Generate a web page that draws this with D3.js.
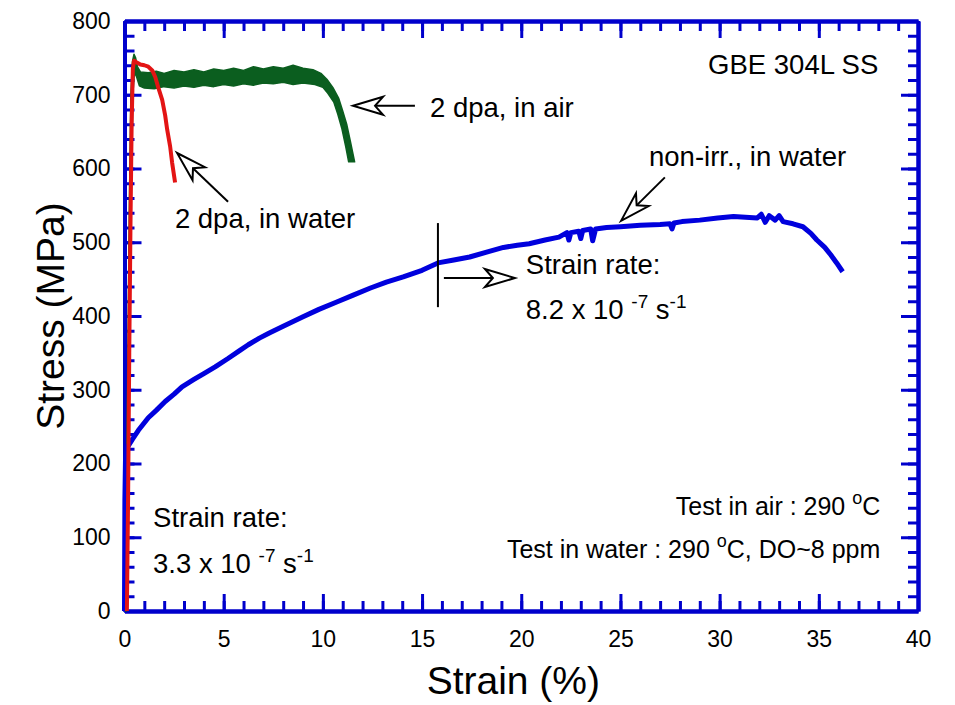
<!DOCTYPE html>
<html>
<head>
<meta charset="utf-8">
<script src="https://cdn.jsdelivr.net/npm/d3@7"></script>
<style>
    body { margin: 0; background: #fff; }
    text { font-family: "Liberation Sans", Arial, sans-serif; fill: #000; }
</style>
</head>
<body>
<script>
// Data: [strain (%), stress (MPa)]
const nonIrrWater = [
    [0, 0], [0.02, 150], [0.05, 205], [0.15, 222], [0.38, 232], [0.7, 245], [1.2, 262], [1.6, 272],
    [2.05, 284], [2.5, 294], [2.9, 304], [3.5, 314], [4, 322], [4.57, 331], [5.2, 342], [5.8, 353],
    [6.24, 361], [6.8, 370], [7.3, 377], [8, 386], [9, 399], [9.8, 409], [10.7, 419], [11.5, 428],
    [12.4, 438], [13.2, 446], [14.05, 453], [15, 462], [15.8, 472], [16.6, 476], [17.4, 480], [18.3, 487],
    [19.1, 493], [19.8, 496], [20.4, 498], [21.2, 503], [21.9, 507], [22.3, 513], [22.4, 503], [22.5, 513],
    [22.9, 515], [23.0, 505], [23.1, 516], [23.5, 518], [23.6, 502], [23.75, 518], [24.3, 520], [25, 521],
    [26, 523], [27, 524], [27.5, 525], [27.6, 518], [27.7, 526], [28.1, 528], [29, 530], [29.9, 533],
    [30.7, 535], [31.3, 534], [31.9, 533], [32.1, 538], [32.3, 527], [32.5, 536], [32.8, 530], [33.0, 536],
    [33.2, 528], [33.7, 525], [34.2, 521], [34.6, 512], [34.9, 503], [35.3, 493], [35.6, 483], [35.9, 472],
    [36.2, 460]
];

const dpa2Water = [
    [0.12, 0], [0.18, 150], [0.24, 350], [0.3, 520], [0.36, 660], [0.42, 735], [0.48, 746], [0.6, 744],
    [0.8, 741], [1.0, 740], [1.2, 738], [1.4, 733], [1.55, 724], [1.7, 710], [1.9, 693], [2.05, 672],
    [2.15, 653], [2.3, 630], [2.4, 608], [2.55, 581]
];

// 2 dpa in air is a noisy band: upper edge forward, lower edge backward
const dpa2AirUpper = [
    [0.05, 0], [0.15, 300], [0.25, 560], [0.32, 700], [0.4, 745], [0.48, 755], [0.56, 750], [0.65, 738],
    [0.8, 731], [1.2, 730], [1.6, 732], [2, 729], [2.5, 733], [3, 731], [3.5, 734], [4, 731], [4.5, 735],
    [5, 733], [5.5, 736], [6, 733], [6.5, 738], [7, 735], [7.5, 738], [8, 736], [8.5, 740], [9, 736],
    [9.5, 734], [9.9, 729], [10.2, 721], [10.5, 710], [10.8, 695], [11.0, 678], [11.2, 660], [11.4, 635],
    [11.6, 609]
];
const dpa2AirLower = [
    [11.3, 609], [11.15, 630], [10.95, 655], [10.75, 674], [10.55, 690], [10.25, 702], [10, 710], [9.6, 714],
    [9, 716], [8.5, 714], [8, 717], [7.5, 715], [7, 716], [6.5, 713], [6, 715], [5.5, 712], [5, 714],
    [4.5, 711], [4, 713], [3.5, 710], [3, 712], [2.5, 709], [2, 711], [1.5, 708], [1, 709], [0.75, 712],
    [0.6, 725], [0.5, 730], [0.42, 700], [0.3, 500], [0.2, 250], [0.1, 0]
];

// Ticks
const xTicks = [0, 5, 10, 15, 20, 25, 30, 35, 40];
const yTicks = [0, 100, 200, 300, 400, 500, 600, 700, 800];
const xMinor = d3.range(0, 41, 1);
const yMinor = d3.range(0, 801, 20);

// Annotations (data units)
const arrows = [
    { tail: [14.64, 685], tip: [11.52, 685] },
    { tail: [5.22, 555], tip: [2.65, 621] },
    { tail: [27.24, 588], tip: [25.03, 529] },
    { tail: [16.1, 451.5], tip: [19.68, 451.5] }
];
const rateMarker = { strain: 15.8, from: 412, to: 526 };

// Constants
const width = 955;
const height = 705;
const axisColor = '#0000CC';

const svg = d3.select('body')
    .append('svg')
    .attr('width', width)
    .attr('height', height);

const x = d3.scaleLinear().domain([0, 40]).range([124.5, 918]);
const y = d3.scaleLinear().domain([0, 800]).range([611, 21]);

// Axis helper
function drawAxis(axis, tx, ty, labels) {
    const g = svg.append('g')
        .attr('transform', `translate(${tx},${ty})`)
        .call(axis);
    g.select('.domain').attr('stroke', axisColor).attr('stroke-width', 4);
    g.selectAll('.tick line').attr('stroke', axisColor).attr('stroke-width', 3);
    g.selectAll('.tick text')
        .attr('font-size', 23)
        .attr('font-family', '"Liberation Sans", Arial, sans-serif')
        .attr('fill', '#000');
    if (!labels) g.selectAll('.tick text').remove();
    return g;
}

// Minor ticks
drawAxis(d3.axisBottom(x).tickValues(xMinor).tickSize(-10).tickSizeOuter(0).tickFormat(''), 0, y(0), false);
drawAxis(d3.axisTop(x).tickValues(xMinor).tickSize(-10).tickSizeOuter(0).tickFormat(''), 0, y(800), false);
drawAxis(d3.axisLeft(y).tickValues(yMinor).tickSize(-10).tickSizeOuter(0).tickFormat(''), x(0), 0, false);
drawAxis(d3.axisRight(y).tickValues(yMinor).tickSize(-10).tickSizeOuter(0).tickFormat(''), x(40), 0, false);

// Major ticks
drawAxis(d3.axisBottom(x).tickValues(xTicks).tickSize(-17).tickSizeOuter(0).tickPadding(20), 0, y(0), true);
drawAxis(d3.axisTop(x).tickValues(xTicks).tickSize(-17).tickSizeOuter(0), 0, y(800), false);
drawAxis(d3.axisLeft(y).tickValues(yTicks).tickSize(-17).tickSizeOuter(0).tickPadding(14), x(0), 0, true);
drawAxis(d3.axisRight(y).tickValues(yTicks).tickSize(-17).tickSizeOuter(0), x(40), 0, false);

// Axis titles
svg.append('text')
    .attr('x', x(19.6))
    .attr('y', 694)
    .attr('text-anchor', 'middle')
    .attr('font-size', 39)
    .text('Strain (%)');

svg.append('text')
    .attr('transform', `translate(64,${(y(0) + y(800)) / 2}) rotate(-90)`)
    .attr('text-anchor', 'middle')
    .attr('font-size', 39)
    .text('Stress (MPa)');

// Curves
const line = d3.line().x(d => x(d[0])).y(d => y(d[1]));

svg.append('path')
    .datum(dpa2AirUpper.concat(dpa2AirLower))
    .attr('d', d => line(d) + 'Z')
    .attr('fill', '#0B5E1F')
    .attr('stroke', '#0B5E1F')
    .attr('stroke-width', 1.5)
    .attr('stroke-linejoin', 'round');

svg.append('path')
    .datum(nonIrrWater)
    .attr('d', line)
    .attr('fill', 'none')
    .attr('stroke', '#0000DD')
    .attr('stroke-width', 5)
    .attr('stroke-linejoin', 'round');

svg.append('path')
    .datum(dpa2Water)
    .attr('d', line)
    .attr('fill', 'none')
    .attr('stroke', '#E31414')
    .attr('stroke-width', 4)
    .attr('stroke-linejoin', 'round');

// Open arrows
arrows.forEach(a => {
    const x1 = x(a.tail[0]), y1 = y(a.tail[1]);
    const x2 = x(a.tip[0]), y2 = y(a.tip[1]);
    const ang = Math.atan2(y2 - y1, x2 - x1);
    const len = 30, half = 9, notch = 22;
    const pt = (back, side) => [
        x2 - back * Math.cos(ang) - side * Math.sin(ang),
        y2 - back * Math.sin(ang) + side * Math.cos(ang)
    ];
    const n = pt(notch, 0);
    svg.append('line')
        .attr('x1', x1).attr('y1', y1)
        .attr('x2', n[0]).attr('y2', n[1])
        .attr('stroke', '#000').attr('stroke-width', 2);
    svg.append('path')
        .attr('d', d3.line()([[x2, y2], pt(len, half), n, pt(len, -half)]) + 'Z')
        .attr('fill', '#fff')
        .attr('stroke', '#000')
        .attr('stroke-width', 2)
        .attr('stroke-linejoin', 'miter');
});

// Strain rate change marker
svg.append('line')
    .attr('x1', x(rateMarker.strain)).attr('x2', x(rateMarker.strain))
    .attr('y1', y(rateMarker.from)).attr('y2', y(rateMarker.to))
    .attr('stroke', '#000').attr('stroke-width', 2);

// Text labels
function label(sx, sy, str, anchor) {
    return svg.append('text')
        .attr('x', x(sx))
        .attr('y', y(sy))
        .attr('font-size', 27.5)
        .attr('text-anchor', anchor || 'start')
        .text(str);
}

label(38, 728, 'GBE 304L SS', 'end');
label(15.4, 670, '2 dpa, in air');
label(2.54, 519, '2 dpa, in water');
label(26.44, 603, 'non-irr., in water');
label(20.23, 457, 'Strain rate:');
label(1.44, 114, 'Strain rate:');

// Rate with superscripts
function rate(sx, sy, mant) {
    const t = label(sx, sy, '');
    t.append('tspan').text(mant + ' x 10 ');
    t.append('tspan').attr('font-size', 19).attr('dy', -11).text('-7');
    t.append('tspan').attr('dy', 11).text(' s');
    t.append('tspan').attr('font-size', 19).attr('dy', -11).text('-1');
}
rate(20.23, 396, '8.2');
rate(1.44, 51.5, '3.3');

// Test conditions (degree as raised o)
function cond(sy, before, after) {
    const t = svg.append('text')
        .attr('x', x(38.1))
        .attr('y', y(sy))
        .attr('font-size', 25)
        .attr('text-anchor', 'end');
    t.append('tspan').text(before);
    t.append('tspan').attr('font-size', 18).attr('dy', -11).text('o');
    t.append('tspan').attr('dy', 11).text(after);
}
cond(130, 'Test in air : 290 ', 'C');
cond(72, 'Test in water : 290 ', 'C, DO~8 ppm');
</script>
</body>
</html>
